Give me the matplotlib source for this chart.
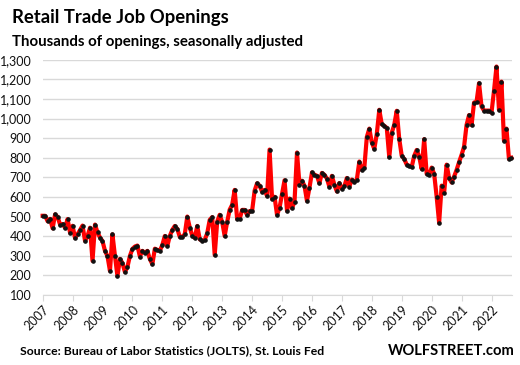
import numpy as np
import matplotlib
import matplotlib.pyplot as plt
from matplotlib.ticker import FuncFormatter

matplotlib.use('agg')

# monthly retail trade job openings, thousands (Jan 2007 - Sep 2022)
openings = [
    504, 504, 476, 488, 440, 511, 498, 459, 462, 443, 487, 417,
    453, 390, 410, 431, 454, 376, 401, 443, 274, 459, 419, 393,
    375, 325, 298, 223, 409, 299, 196, 284, 263, 217, 243, 299,
    335, 347, 352, 296, 325, 314, 325, 283, 257, 336, 330, 325,
    355, 401, 350, 401, 432, 452, 437, 396, 396, 410, 500, 444,
    403, 391, 452, 384, 376, 381, 415, 483, 497, 304, 474, 509,
    472, 401, 473, 535, 560, 636, 488, 488, 534, 534, 508, 528,
    529, 632, 670, 658, 627, 636, 605, 842, 590, 601, 508, 545,
    615, 685, 529, 592, 543, 575, 827, 662, 683, 657, 580, 647,
    725, 714, 708, 670, 723, 713, 694, 652, 708, 662, 628, 671,
    642, 655, 697, 653, 689, 677, 689, 781, 738, 750, 906, 949,
    878, 845, 922, 1045, 971, 963, 953, 803, 928, 969, 1040, 897,
    810, 794, 765, 759, 753, 810, 840, 806, 743, 895, 718, 713,
    750, 718, 602, 468, 658, 621, 765, 696, 674, 704, 738, 778,
    815, 857, 968, 1018, 967, 1082, 1086, 1181, 1062, 1041, 1041, 1041,
    1031, 1142, 1266, 1045, 1189, 888, 949, 794, 800,
]
years = list(range(2007, 2023))
y_ticks = list(range(100, 1301, 100))

plt.rcParams['font.family'] = ['Lato', 'DejaVu Sans']

fig = plt.figure(figsize=(5.2, 3.65), dpi=100)
ax = fig.add_axes([0.082, 0.192, 0.903, 0.644])

months = np.arange(len(openings))
ax.plot(months, openings, color='#ff0000', linewidth=3, clip_on=False, zorder=3)
ax.plot(months, openings, linestyle='none', marker='o', markersize=2.3,
        color='#111111', clip_on=False, zorder=4)

ax.set_ylim(100, 1300)
ax.set_xlim(0, 188.3)
ax.set_yticks(y_ticks)
ax.yaxis.set_major_formatter(FuncFormatter(lambda v, p: f'{int(v):,}'))
ax.set_xticks([12 * k for k in range(len(years))])
ax.set_xticklabels([str(y) for y in years], rotation=45, ha='right',
                   rotation_mode='anchor')

ax.grid(axis='y', color='#d9d9d9', linewidth=1)
ax.set_axisbelow(True)
for s in ['top', 'right', 'left']:
    ax.spines[s].set_visible(False)
ax.spines['bottom'].set_color('#d9d9d9')
ax.tick_params(axis='y', length=0, labelsize=9, pad=8, colors='#111111')
ax.tick_params(axis='x', length=4, color='#d9d9d9', labelsize=9, pad=2,
               labelcolor='#111111')

# titles and footer
fig.text(0.024, 0.975, 'Retail Trade Job Openings', fontsize=13.3,
         fontweight='bold', va='top', ha='left')
fig.text(0.024, 0.905, 'Thousands of openings, seasonally adjusted',
         fontsize=10.8, fontweight='bold', va='top', ha='left')
fig.text(0.038, 0.038, 'Source: Bureau of Labor Statistics (JOLTS), St. Louis Fed',
         fontsize=8.8, fontweight='bold', va='center', ha='left')
fig.text(0.99, 0.038, 'WOLFSTREET.com', fontsize=10.6, fontweight='bold',
         va='center', ha='right')

plt.savefig('out.png', dpi=100, facecolor='white')
